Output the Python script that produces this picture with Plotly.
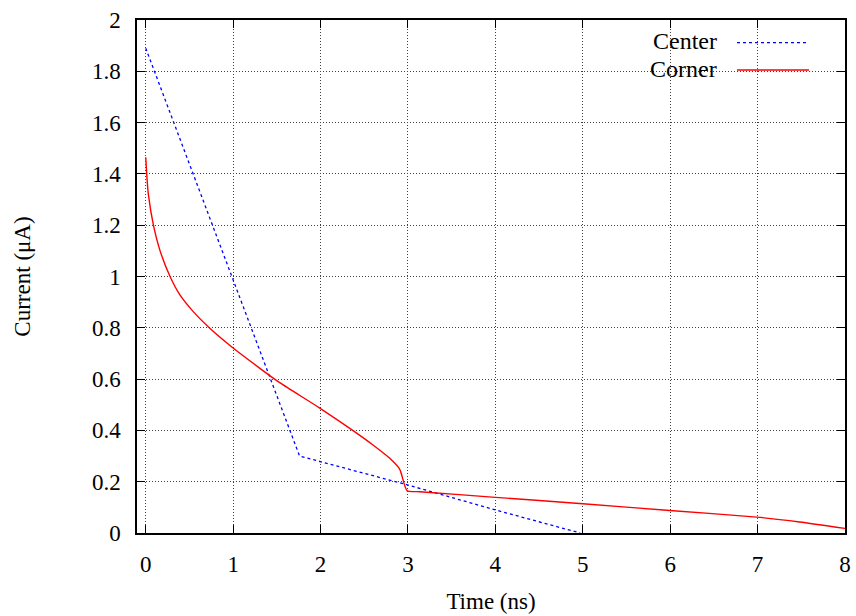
import plotly.graph_objects as go

# Data
center_t = [0.0, 1.76, 3.0, 4.0, 4.97]
center_i = [1.89, 0.30, 0.187, 0.09, 0.0]

corner_t = [0.0, 0.015, 0.03, 0.088, 0.164, 0.278, 0.393, 0.546, 0.736, 1.003, 1.306,
            1.533, 1.991, 2.372, 2.6, 2.792, 2.906, 2.99, 3.135, 4.0,
            5.0, 5.995, 6.99, 7.48, 8.0]
corner_i = [1.465, 1.38, 1.32, 1.20, 1.10, 1.0, 0.927, 0.862, 0.797, 0.72, 0.642,
            0.586, 0.487, 0.399, 0.343, 0.291, 0.248, 0.165, 0.161, 0.139,
            0.114, 0.088, 0.062, 0.043, 0.018]

x_ticks = [0, 1, 2, 3, 4, 5, 6, 7, 8]
y_ticks = [0, 0.2, 0.4, 0.6, 0.8, 1.0, 1.2, 1.4, 1.6, 1.8, 2.0]
y_labels = ["0", "0.2", "0.4", "0.6", "0.8", "1", "1.2", "1.4", "1.6", "1.8", "2"]

FONT = "Liberation Serif"
FS = 23

fig = go.Figure()
fig.add_trace(go.Scatter(x=center_t, y=center_i, mode="lines", name="Center",
                         line=dict(color="#0000ff", width=1.3, dash="3px,3px"),
                         showlegend=False))
fig.add_trace(go.Scatter(x=corner_t, y=corner_i, mode="lines", name="Corner",
                         line=dict(color="#ff0000", width=1.4, shape="spline", smoothing=0.6),
                         showlegend=False))

axis_common = dict(
    showline=True, linecolor="black", linewidth=1.5, mirror="ticks",
    ticks="inside", ticklen=8, tickwidth=1.2, tickcolor="black",
    showgrid=True, gridcolor="#404040", griddash="1px,2px", gridwidth=1,
    zeroline=False, automargin=False,
    tickfont=dict(family=FONT, size=FS, color="black"),
)

fig.update_xaxes(range=[-0.1, 8], tickvals=x_ticks, ticktext=[str(v) for v in x_ticks],
                 ticklabelstandoff=10,
                 title=dict(text="Time (ns)", font=dict(family=FONT, size=FS, color="black"),
                            standoff=17),
                 **axis_common)
fig.update_yaxes(range=[0, 2], tickvals=y_ticks, ticktext=y_labels,
                 ticklabelstandoff=10,
                 title=dict(text="Current (μA)", font=dict(family=FONT, size=FS, color="black"),
                            standoff=55),
                 **axis_common)

# legend (gnuplot style: text right, sample left->right)
def px(x):
    return (x - 137) / 708.0

def py(y):
    return (533 - y) / 513.0

shapes = [
    dict(type="rect", xref="paper", yref="paper", x0=px(620), x1=px(826), y0=py(85), y1=py(30),
         fillcolor="white", line=dict(width=0), layer="between"),
    dict(type="line", xref="paper", yref="paper", x0=px(737), x1=px(809), y0=py(42.7), y1=py(42.7),
         line=dict(color="#0000ff", width=1.3, dash="3px,3px")),
    dict(type="line", xref="paper", yref="paper", x0=px(737), x1=px(809), y0=py(70), y1=py(70),
         line=dict(color="#ff0000", width=1.4)),
]
annotations = [
    dict(text="Center", xref="paper", yref="paper", x=px(719), y=py(41.5), xanchor="right",
         yanchor="middle", showarrow=False, font=dict(family=FONT, size=FS + 1, color="black")),
    dict(text="Corner", xref="paper", yref="paper", x=px(719), y=py(68.5), xanchor="right",
         yanchor="middle", showarrow=False, font=dict(family=FONT, size=FS + 1, color="black")),
]

fig.update_layout(
    width=856, height=616,
    margin=dict(l=137, r=11, t=20, b=83),
    paper_bgcolor="white", plot_bgcolor="white",
    shapes=shapes, annotations=annotations,
    font=dict(family=FONT, size=FS, color="black"),
)

fig.write_html("out.html")
